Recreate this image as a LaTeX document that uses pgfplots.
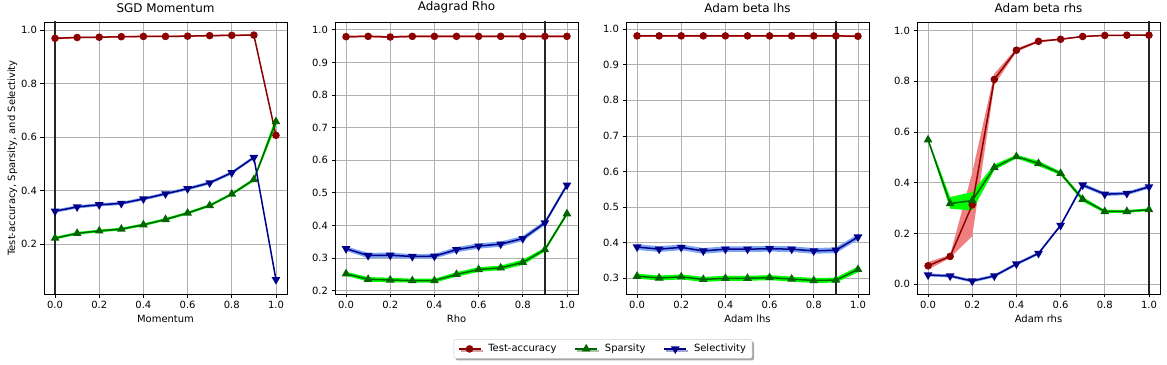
\documentclass[border=0pt]{standalone}
\usepackage{fontspec}
\setmainfont{DejaVu Sans}
\usepackage{pgfplots}
\pgfplotsset{compat=1.18}
\usepackage{pgfplotstable}
\usepgfplotslibrary{groupplots,fillbetween}
\usetikzlibrary{shadows}

\definecolor{cacc}{RGB}{139,0,0}
\definecolor{csp}{RGB}{0,100,0}
\definecolor{csel}{RGB}{0,0,139}
\definecolor{bacc}{RGB}{240,128,128}
\definecolor{bsp}{RGB}{0,255,0}
\definecolor{bsel}{RGB}{100,149,237}
\definecolor{gridc}{RGB}{176,176,176}

% x acc alo ahi sp slo shi se elo ehi
\pgfplotstableread{
x acc alo ahi sp slo shi se elo ehi
0.0 0.970 0.966 0.974 0.222 0.217 0.227 0.323 0.317 0.329
0.1 0.973 0.970 0.976 0.240 0.235 0.245 0.339 0.333 0.345
0.2 0.974 0.971 0.977 0.249 0.244 0.254 0.347 0.341 0.353
0.3 0.976 0.973 0.979 0.256 0.251 0.261 0.352 0.346 0.358
0.4 0.977 0.974 0.980 0.272 0.267 0.277 0.369 0.363 0.375
0.5 0.977 0.974 0.980 0.292 0.287 0.297 0.388 0.382 0.394
0.6 0.978 0.975 0.981 0.316 0.311 0.321 0.407 0.401 0.413
0.7 0.980 0.977 0.983 0.344 0.339 0.349 0.429 0.423 0.435
0.8 0.981 0.978 0.984 0.387 0.382 0.392 0.467 0.461 0.473
0.9 0.982 0.979 0.985 0.441 0.435 0.447 0.524 0.518 0.530
1.0 0.607 0.603 0.611 0.658 0.640 0.676 0.067 0.062 0.072
}\tsgd

\pgfplotstableread{
x acc alo ahi sp slo shi se elo ehi
0.0 0.979 0.976 0.982 0.252 0.246 0.258 0.329 0.322 0.336
0.1 0.980 0.977 0.983 0.235 0.228 0.242 0.308 0.300 0.316
0.2 0.978 0.975 0.981 0.233 0.226 0.240 0.309 0.301 0.317
0.3 0.980 0.977 0.983 0.231 0.225 0.237 0.305 0.298 0.312
0.4 0.980 0.977 0.983 0.231 0.225 0.237 0.306 0.299 0.313
0.5 0.980 0.977 0.983 0.250 0.243 0.257 0.326 0.318 0.334
0.6 0.980 0.977 0.983 0.265 0.258 0.272 0.337 0.329 0.345
0.7 0.980 0.977 0.983 0.270 0.263 0.277 0.343 0.335 0.351
0.8 0.980 0.977 0.983 0.287 0.279 0.295 0.360 0.352 0.368
0.9 0.980 0.977 0.983 0.326 0.320 0.332 0.408 0.401 0.415
1.0 0.980 0.977 0.983 0.436 0.430 0.442 0.524 0.517 0.531
}\tada

\pgfplotstableread{
x acc alo ahi sp slo shi se elo ehi
0.0 0.981 0.978 0.984 0.306 0.299 0.313 0.388 0.380 0.396
0.1 0.981 0.978 0.984 0.301 0.294 0.308 0.382 0.374 0.390
0.2 0.981 0.978 0.984 0.304 0.297 0.311 0.387 0.379 0.395
0.3 0.981 0.978 0.984 0.297 0.290 0.304 0.377 0.369 0.385
0.4 0.981 0.978 0.984 0.300 0.293 0.307 0.382 0.374 0.390
0.5 0.981 0.978 0.984 0.300 0.293 0.307 0.382 0.374 0.390
0.6 0.981 0.978 0.984 0.302 0.295 0.309 0.383 0.375 0.391
0.7 0.981 0.978 0.984 0.298 0.291 0.305 0.382 0.374 0.390
0.8 0.981 0.978 0.984 0.294 0.287 0.301 0.377 0.369 0.385
0.9 0.981 0.978 0.984 0.295 0.288 0.302 0.379 0.371 0.387
1.0 0.980 0.977 0.983 0.325 0.317 0.333 0.416 0.408 0.424
}\tlhs

\pgfplotstableread{
x acc alo ahi sp slo shi se elo ehi
0.0 0.073 0.058 0.088 0.569 0.563 0.575 0.037 0.031 0.043
0.1 0.110 0.104 0.116 0.318 0.298 0.344 0.033 0.027 0.039
0.2 0.313 0.190 0.440 0.330 0.291 0.363 0.013 0.007 0.019
0.3 0.807 0.785 0.830 0.460 0.450 0.472 0.033 0.027 0.039
0.4 0.922 0.915 0.929 0.503 0.496 0.510 0.080 0.074 0.086
0.5 0.957 0.953 0.961 0.476 0.466 0.486 0.122 0.116 0.128
0.6 0.965 0.962 0.968 0.437 0.430 0.444 0.232 0.226 0.238
0.7 0.976 0.974 0.978 0.335 0.326 0.344 0.391 0.383 0.399
0.8 0.980 0.978 0.982 0.287 0.281 0.293 0.355 0.348 0.362
0.9 0.981 0.979 0.983 0.287 0.281 0.293 0.358 0.351 0.365
1.0 0.981 0.979 0.983 0.294 0.289 0.299 0.384 0.377 0.391
}\trhs

% #1 table, #2 y col, #3 lo col, #4 hi col, #5 band colour, #6 line style, #7 id
\newcommand\plotseries[7]{%
  \addplot[name path=lo#7, draw=none, forget plot] table[x=x,y=#3]{#1};
  \addplot[name path=hi#7, draw=none, forget plot] table[x=x,y=#4]{#1};
  \addplot[fill=#5, draw=none, forget plot] fill between[of=hi#7 and lo#7];
  \addplot[#6] table[x=x,y=#2]{#1};
}
\newcommand\allseries[2]{%
  \plotseries{#1}{acc}{alo}{ahi}{bacc}{cacc, line width=1.5bp, mark=*, mark size=3bp, mark options={fill=cacc}}{a#2}
  \plotseries{#1}{sp}{slo}{shi}{bsp}{csp, line width=1.5bp, mark=triangle*, mark size=3.6bp, mark options={fill=csp}}{s#2}
  \plotseries{#1}{se}{elo}{ehi}{bsel!85}{csel, line width=1.5bp, mark=triangle*, mark size=3.6bp, mark options={fill=csel, rotate=180}}{e#2}
}

\begin{document}
\begin{tikzpicture}
\begin{groupplot}[
  group style={group size=4 by 1, horizontal sep=48bp},
  width=243bp, height=272bp, scale only axis,
  xmin=-0.05, xmax=1.05,
  xtick={0,0.2,0.4,0.6,0.8,1},
  grid=major,
  major grid style={color=gridc, line width=0.8bp},
  axis line style={black, line width=0.8bp},
  tick align=outside, tick pos=left,
  major tick length=3.5bp,
  major tick style={black, line width=0.8bp},
  ticklabel style={font=\fontsize{10}{12}\selectfont},
  xticklabel style={/pgf/number format/.cd, fixed, fixed zerofill, precision=1, assume math mode=true},
  yticklabel style={/pgf/number format/.cd, fixed, fixed zerofill, precision=1, assume math mode=true},
  label style={font=\fontsize{10}{12}\selectfont},
  title style={font=\fontsize{12}{14}\selectfont},
  legend image code/.code={\draw[mark repeat=2, mark phase=2] plot coordinates {(0bp,0bp) (11bp,0bp) (22bp,0bp)}; \path (27bp,0bp);},
]
\nextgroupplot[title={SGD Momentum}, xlabel={Momentum},
  ylabel={Test-accuracy, Sparsity, and Selectivity}, ylabel shift=-3bp,
  ymin=0.013, ymax=1.031, ytick={0.2,0.4,0.6,0.8,1.0},
  legend columns=3,
  legend style={at={(2.300,-0.202)}, anchor=center, draw=black!20, fill=white,
    rounded corners=2bp, font=\fontsize{10}{12}\selectfont,
    inner xsep=4bp, inner ysep=3bp,
    drop shadow={shadow xshift=2bp, shadow yshift=-2bp, fill=black, opacity=0.35},
    /tikz/every even column/.append style={column sep=16bp}},
]
\allseries{\tsgd}{1}
\addlegendentry{Test-accuracy}
\addlegendentry{Sparsity}
\addlegendentry{Selectivity}
\addplot[black!85, line width=1.6bp, forget plot] coordinates {(0,-1) (0,2)};

\nextgroupplot[title={Adagrad Rho}, xlabel={Rho},
  ymin=0.19, ymax=1.024, ytick={0.2,0.3,0.4,0.5,0.6,0.7,0.8,0.9,1.0}]
\allseries{\tada}{2}
\addplot[black!85, line width=1.6bp, forget plot] coordinates {(0.9,-1) (0.9,2)};

\nextgroupplot[title={Adam beta lhs}, xlabel={Adam lhs},
  ymin=0.256, ymax=1.02, ytick={0.3,0.4,0.5,0.6,0.7,0.8,0.9,1.0}]
\allseries{\tlhs}{3}
\addplot[black!85, line width=1.6bp, forget plot] coordinates {(0.9,-1) (0.9,2)};

\nextgroupplot[title={Adam beta rhs}, xlabel={Adam rhs},
  ymin=-0.038, ymax=1.033, ytick={0,0.2,0.4,0.6,0.8,1.0}]
\allseries{\trhs}{4}
\addplot[black!85, line width=1.6bp, forget plot] coordinates {(1,-1) (1,2)};
\end{groupplot}
\pgfresetboundingbox
\path ([xshift=-44bp,yshift=-71bp]group c1r1.south west) rectangle ++(1167bp,365bp);
\end{tikzpicture}
\end{document}
